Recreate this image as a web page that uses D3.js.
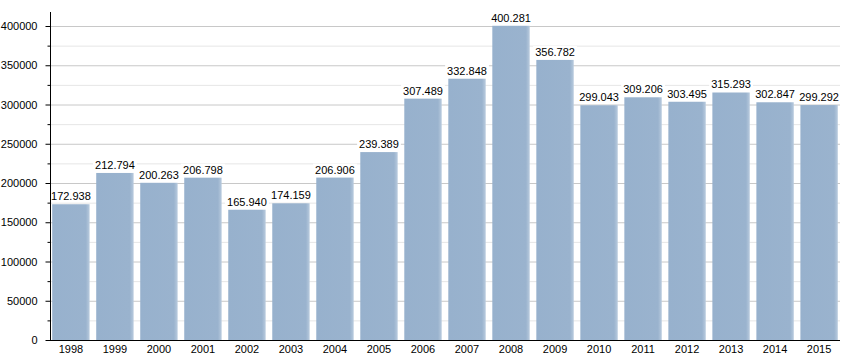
<!DOCTYPE html>
<html>
<head>
<meta charset="utf-8">
<script src="https://cdn.jsdelivr.net/npm/d3@7"></script>
<style>
  body { margin: 0; background: #fff; }
  svg text { font-family: "Liberation Sans", Arial, sans-serif; }
</style>
</head>
<body>
<div id="chart"></div>
<script>
// data
const years = ['1998', '1999', '2000', '2001', '2002', '2003', '2004', '2005', '2006',
  '2007', '2008', '2009', '2010', '2011', '2012', '2013', '2014', '2015'];
const values = [172938, 212794, 200263, 206798, 165940, 174159, 206906, 239389, 307489,
  332848, 400281, 356782, 299043, 309206, 303495, 315293, 302847, 299292];
const yTicks = [0, 50000, 100000, 150000, 200000, 250000, 300000, 350000, 400000];
const yMinorTicks = [25000, 75000, 125000, 175000, 225000, 275000, 325000, 375000];

const W = 850, H = 360;
const left = 50, right = 840, bottom = 340;

const svg = d3.select('#chart').append('svg')
  .attr('width', W).attr('height', H);

const defs = svg.append('defs');
const grad = defs.append('linearGradient').attr('id', 'barGrad')
  .attr('x1', '0').attr('x2', '1').attr('y1', '0').attr('y2', '0');
grad.append('stop').attr('offset', '0%').attr('stop-color', '#97b1cd');
grad.append('stop').attr('offset', '90%').attr('stop-color', '#9ab3ce');
grad.append('stop').attr('offset', '100%').attr('stop-color', '#b9cbde');

const x = d3.scaleBand().domain(years).range([left, right])
  .paddingInner(0.15).paddingOuter(0.05);
// 400000 sits at y = 26
const y = d3.scaleLinear().domain([0, 400000]).range([bottom, 26]);

// grid lines
svg.append('g').selectAll('line').data(yMinorTicks).enter().append('line')
  .attr('x1', left).attr('x2', right)
  .attr('y1', d => y(d) + 0.5).attr('y2', d => y(d) + 0.5)
  .attr('stroke', '#e6e6e6');
svg.append('g').selectAll('line').data(yTicks.slice(1)).enter().append('line')
  .attr('x1', left).attr('x2', right)
  .attr('y1', d => y(d) + 0.5).attr('y2', d => y(d) + 0.5)
  .attr('stroke', '#c8c8c8');

// bars
svg.append('g').selectAll('rect').data(values).enter().append('rect')
  .attr('x', (d, i) => x(years[i]))
  .attr('y', d => y(d))
  .attr('width', x.bandwidth())
  .attr('height', d => bottom - y(d))
  .attr('fill', 'url(#barGrad)');

// value labels with white background
const fmt = d => d3.format(',')(d).replace(/,/g, '.');
const labels = svg.append('g').selectAll('g').data(values).enter().append('g');
labels.append('text')
  .attr('x', (d, i) => x(years[i]) + x.bandwidth() / 2)
  .attr('y', d => y(d) - 4)
  .attr('text-anchor', 'middle')
  .attr('font-size', 11)
  .attr('fill', '#000')
  .text(fmt);
labels.each(function () {
  const g = d3.select(this);
  const bb = g.select('text').node().getBBox();
  g.insert('rect', 'text')
    .attr('x', bb.x - 2).attr('y', bb.y)
    .attr('width', bb.width + 4).attr('height', bb.height)
    .attr('fill', '#fff');
});

// y axis
const yAxis = svg.append('g').attr('transform', `translate(${left + 0.5},0)`);
yAxis.append('line').attr('x1', 0).attr('x2', 0)
  .attr('y1', 12).attr('y2', bottom).attr('stroke', '#000');
yAxis.selectAll('.major').data(yTicks).enter().append('line')
  .attr('x1', -5).attr('x2', 0)
  .attr('y1', d => y(d) + 0.5).attr('y2', d => y(d) + 0.5)
  .attr('stroke', '#000');
yAxis.selectAll('.minor').data(yMinorTicks).enter().append('line')
  .attr('x1', -3).attr('x2', 0)
  .attr('y1', d => y(d) + 0.5).attr('y2', d => y(d) + 0.5)
  .attr('stroke', '#000');
yAxis.selectAll('text').data(yTicks).enter().append('text')
  .attr('x', -13).attr('y', d => y(d) + 4)
  .attr('text-anchor', 'end')
  .attr('font-size', 11)
  .text(d => d);

// x axis
svg.append('line').attr('x1', left).attr('x2', right)
  .attr('y1', bottom + 0.5).attr('y2', bottom + 0.5).attr('stroke', '#000');
svg.append('g').selectAll('text').data(years).enter().append('text')
  .attr('x', d => x(d) + x.bandwidth() / 2)
  .attr('y', bottom + 13)
  .attr('text-anchor', 'middle')
  .attr('font-size', 11)
  .text(d => d);
</script>
</body>
</html>
